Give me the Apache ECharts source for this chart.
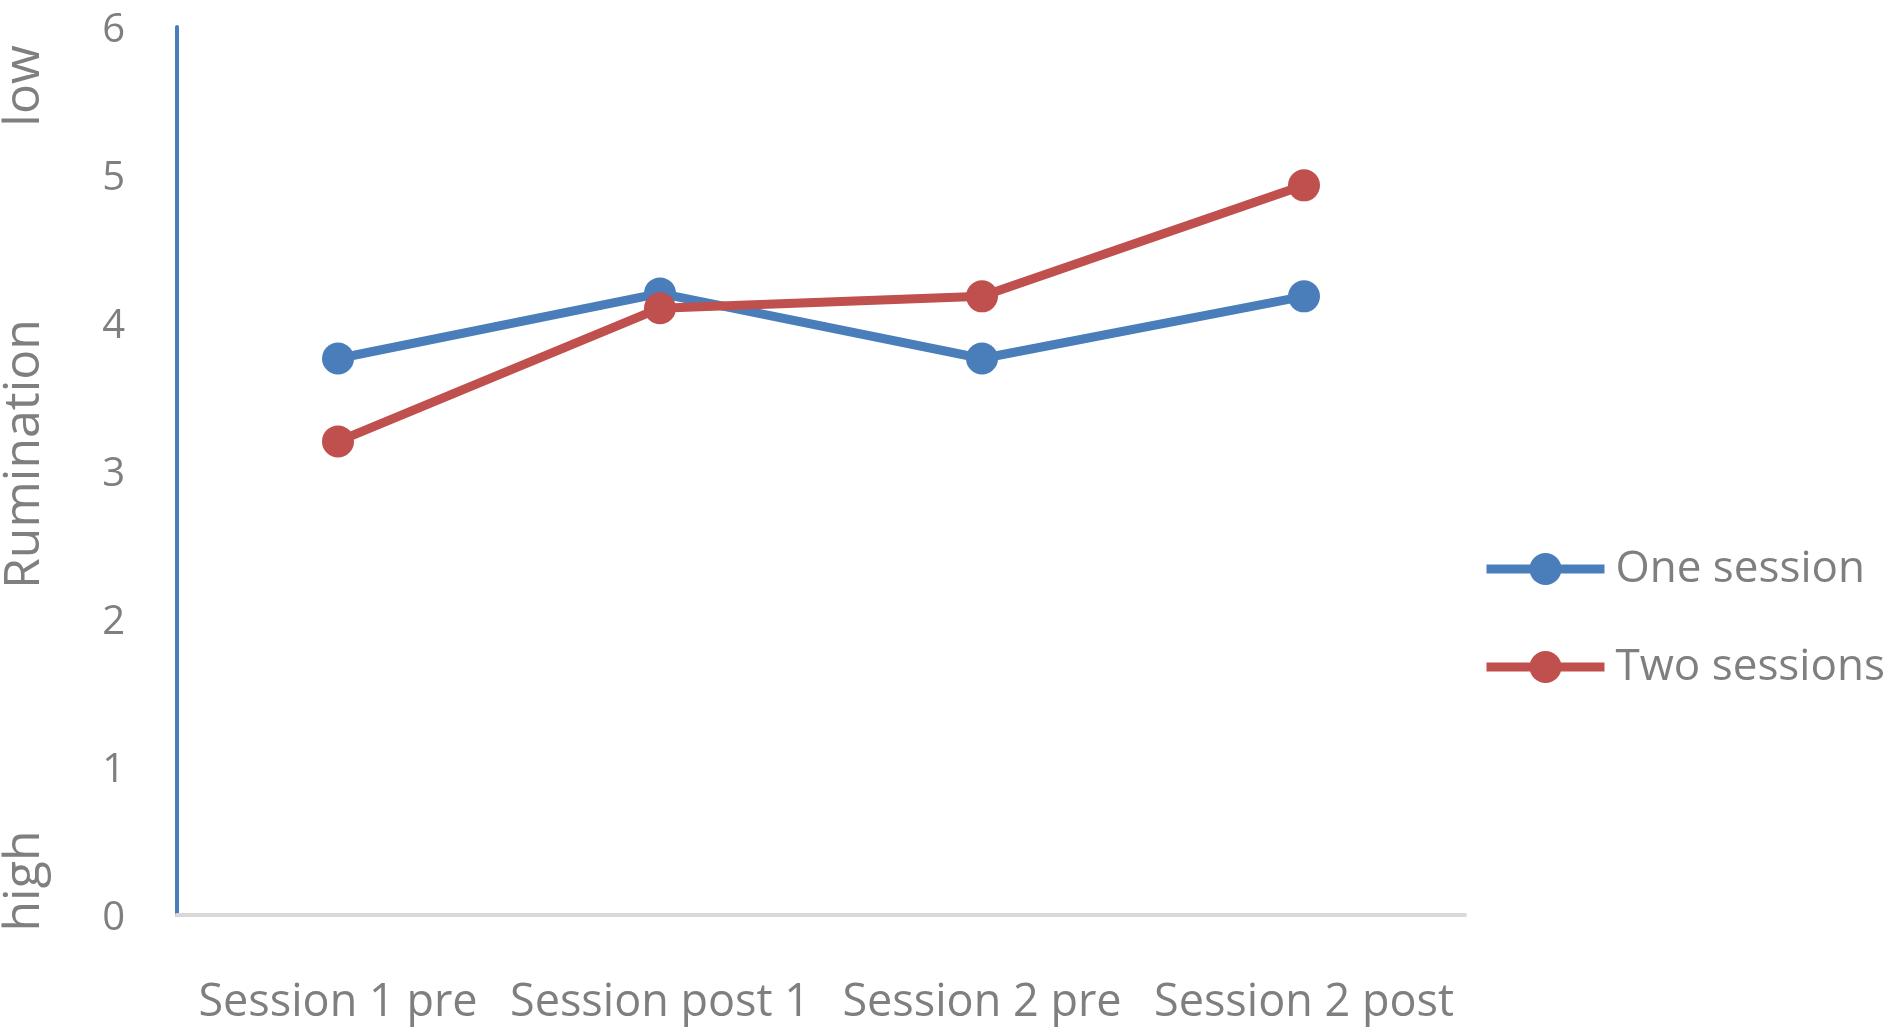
<!DOCTYPE html>
<html>
<head>
<meta charset="utf-8">
<script src="https://cdn.jsdelivr.net/npm/echarts@6/dist/echarts.min.js"></script>
<style>
html,body{margin:0;padding:0;background:#fff;}
#chart{width:1893px;height:1035px;}
</style>
</head>
<body>
<div id="chart"></div>
<script>
const categories = ['Session 1 pre', 'Session post 1', 'Session 2 pre', 'Session 2 post'];
const oneSession = [3.76, 4.20, 3.76, 4.18];
const twoSessions = [3.20, 4.10, 4.18, 4.93];
const yTicks = [0, 1, 2, 3, 4, 5, 6];

const FONT = '"Open Sans", sans-serif';
const GRAY = '#7f7f7f';
const BLUE = '#4a7ebb';
const RED = '#c0504d';

const chart = echarts.init(document.getElementById('chart'), null, {renderer: 'canvas'});
chart.setOption({
  animation: false,
  backgroundColor: '#ffffff',
  grid: {left: 177, right: 428, top: 27, bottom: 120, containLabel: false},
  xAxis: {
    type: 'category',
    data: categories,
    boundaryGap: true,
    axisLine: {show: true, lineStyle: {color: '#d9d9d9', width: 4}},
    axisTick: {show: false},
    splitLine: {show: false},
    axisLabel: {color: GRAY, fontFamily: FONT, fontSize: 45, margin: 66, interval: 0}
  },
  yAxis: {
    type: 'value',
    min: yTicks[0],
    max: yTicks[yTicks.length - 1],
    interval: 1,
    axisLine: {show: true, lineStyle: {color: BLUE, width: 4}},
    axisTick: {show: false},
    splitLine: {show: false},
    axisLabel: {
      margin: 52,
      formatter: '{v|{value}}',
      rich: {v: {color: GRAY, fontFamily: FONT, fontSize: 40, padding: [8, 0, 0, 0]}}
    }
  },
  legend: {
    orient: 'vertical',
    left: 1477,
    top: 542,
    itemWidth: 118,
    itemHeight: 40,
    itemGap: 54,
    lineStyle: {width: 9},
    textStyle: {color: GRAY, fontFamily: FONT, fontSize: 44, padding: [0, 0, 0, 6]},
    data: ['One session', 'Two sessions']
  },
  series: [
    {
      name: 'One session', type: 'line', data: oneSession,
      symbol: 'circle', symbolSize: 32,
      lineStyle: {color: BLUE, width: 9},
      itemStyle: {color: BLUE}
    },
    {
      name: 'Two sessions', type: 'line', data: twoSessions,
      symbol: 'circle', symbolSize: 32,
      lineStyle: {color: RED, width: 9},
      itemStyle: {color: RED}
    }
  ],
  graphic: [
    {type: 'text', x: 25, y: 454, rotation: Math.PI / 2,
     style: {text: 'Rumination', fill: GRAY, font: '50px ' + FONT, textAlign: 'center', textVerticalAlign: 'middle'}},
    {type: 'text', x: 25, y: 86, rotation: Math.PI / 2,
     style: {text: 'low', fill: GRAY, font: '50px ' + FONT, textAlign: 'center', textVerticalAlign: 'middle'}},
    {type: 'text', x: 25, y: 881, rotation: Math.PI / 2,
     style: {text: 'high', fill: GRAY, font: '50px ' + FONT, textAlign: 'center', textVerticalAlign: 'middle'}}
  ]
});
</script>
</body>
</html>
